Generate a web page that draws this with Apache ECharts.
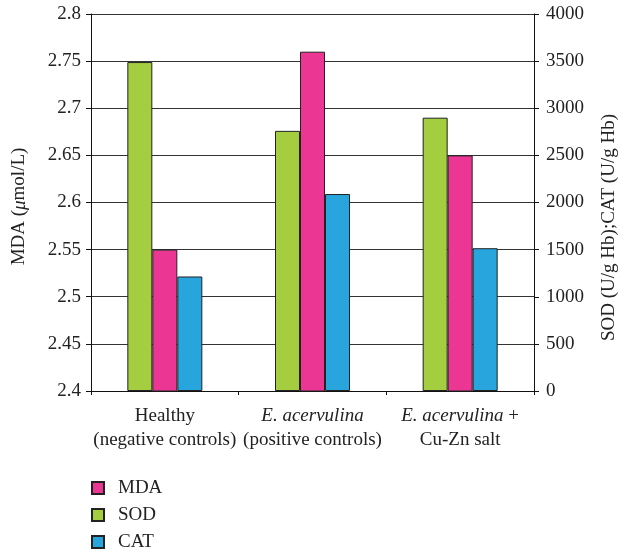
<!DOCTYPE html>
<html>
<head>
<meta charset="utf-8">
<script src="https://cdn.jsdelivr.net/npm/echarts@6/dist/echarts.min.js"></script>
<style>
  html, body { margin: 0; padding: 0; background: #fff; }
  #chart { width: 621px; height: 554px; }
</style>
</head>
<body>
<div id="chart"></div>
<script>
// Groups along the x axis
const categories = ['healthy', 'positive', 'cuzn'];
// MDA in µmol/L (left axis)
const mdaValues = [2.55, 2.76, 2.65];
// SOD and CAT in U/g Hb (right axis)
const sodValues = [3490, 2760, 2900];
const catValues = [1215, 2090, 1515];
// Axis ticks
const mdaTicks = { min: 2.4, max: 2.8, step: 0.05 };
const enzymeTicks = { min: 0, max: 4000, step: 500 };

const FONT = '"Liberation Serif", "DejaVu Serif", serif';
const FS = 19;
const TEXT = '#222';

const catLabels = {
  healthy: 'Healthy\n(negative controls)',
  positive: '{i|E. acervulina}\n(positive controls)',
  cuzn: '{i|E. acervulina} +\nCu-Zn salt'
};

const chart = echarts.init(document.getElementById('chart'), null, { renderer: 'canvas' });

const barBorder = { borderColor: '#222', borderWidth: 1 };

chart.setOption({
  animation: false,
  textStyle: { fontFamily: FONT, color: TEXT },
  grid: { left: 91, right: 87, top: 14, bottom: 163, containLabel: false, outerBoundsMode: 'none' },
  legend: {
    orient: 'vertical',
    left: 91,
    top: 478,
    height: 100,
    padding: 0,
    itemWidth: 12,
    itemHeight: 12,
    itemGap: 7,
    icon: 'rect',
    data: ['MDA', 'SOD', 'CAT'],
    textStyle: { fontFamily: FONT, fontSize: FS, color: TEXT, lineHeight: 20, padding: [0, 0, 0, 9] }
  },
  xAxis: {
    type: 'category',
    data: categories,
    axisLine: { lineStyle: { color: '#111', width: 1 } },
    axisTick: { show: true, length: 4, alignWithLabel: false, lineStyle: { color: '#111' } },
    axisLabel: {
      margin: 13,
      interval: 0,
      fontFamily: FONT,
      fontSize: FS,
      color: TEXT,
      lineHeight: 24,
      formatter: v => catLabels[v],
      rich: {
        i: { fontFamily: FONT, fontStyle: 'italic', fontSize: FS, color: TEXT, lineHeight: 24 }
      }
    }
  },
  yAxis: [
    {
      type: 'value',
      min: mdaTicks.min,
      max: mdaTicks.max,
      interval: mdaTicks.step,
      name: '{n|MDA (}{i|μ}{n|mol/L)}',
      nameLocation: 'middle',
      nameGap: 62,
      nameRotate: 90,
      nameTextStyle: {
        padding: [0, 8, 0, 0],
        rich: {
          n: { fontFamily: FONT, fontSize: FS, color: TEXT },
          i: { fontFamily: FONT, fontSize: FS, color: TEXT, fontStyle: 'italic' }
        }
      },
      axisLine: { show: true, lineStyle: { color: '#111', width: 1 } },
      axisTick: { show: true, length: 5, lineStyle: { color: '#111' } },
      axisLabel: {
        margin: 10,
        fontFamily: FONT,
        fontSize: FS,
        color: TEXT,
        formatter: v => String(parseFloat(v.toFixed(2)))
      },
      splitLine: { show: true, lineStyle: { color: '#333', width: 1 } }
    },
    {
      type: 'value',
      min: enzymeTicks.min,
      max: enzymeTicks.max,
      interval: enzymeTicks.step,
      position: 'right',
      name: 'SOD (U/g Hb);CAT (U/g Hb)',
      nameLocation: 'middle',
      nameGap: 66,
      nameRotate: 90,
      nameTextStyle: { fontFamily: FONT, fontSize: FS, color: TEXT, padding: [0, 50, 0, 0] },
      axisLine: { show: true, lineStyle: { color: '#111', width: 1 } },
      axisTick: { show: true, length: 5, lineStyle: { color: '#111' } },
      axisLabel: { margin: 12, fontFamily: FONT, fontSize: FS, color: TEXT, formatter: v => String(v) },
      splitLine: { show: false }
    }
  ],
  series: [
    {
      name: 'SOD',
      type: 'bar',
      yAxisIndex: 1,
      data: sodValues,
      barWidth: 25,
      barGap: '0%',
      barCategoryGap: '48%',
      itemStyle: Object.assign({ color: '#a5cd40' }, barBorder)
    },
    {
      name: 'MDA',
      type: 'bar',
      yAxisIndex: 0,
      data: mdaValues,
      barWidth: 25,
      barGap: '0%',
      itemStyle: Object.assign({ color: '#ec3693' }, barBorder)
    },
    {
      name: 'CAT',
      type: 'bar',
      yAxisIndex: 1,
      data: catValues,
      barWidth: 25,
      barGap: '0%',
      itemStyle: Object.assign({ color: '#29a5dd' }, barBorder)
    }
  ]
});
</script>
</body>
</html>
